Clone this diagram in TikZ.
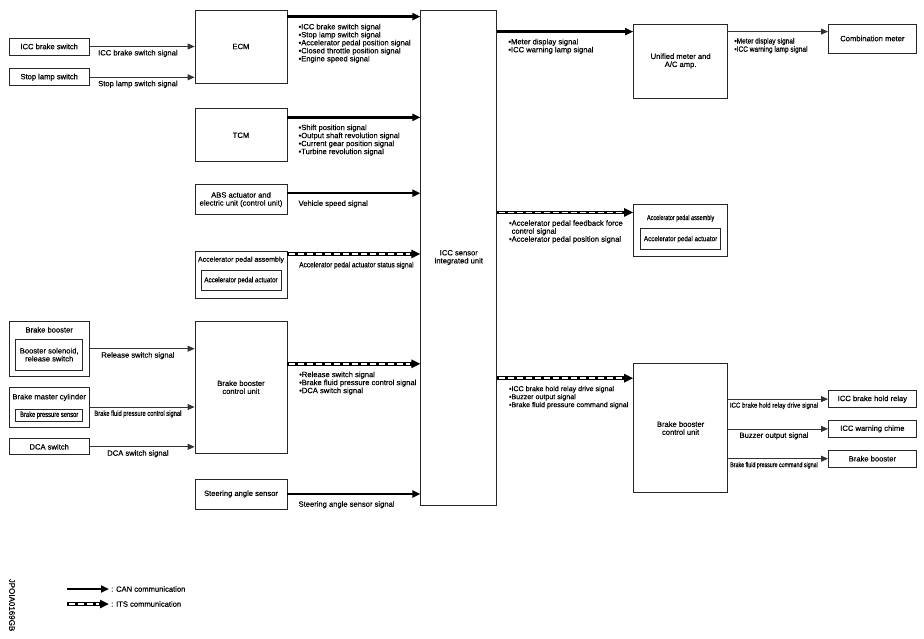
\documentclass[tikz,border=0pt]{standalone}
\usepackage{fontspec}
\setmainfont{Liberation Sans}[FakeBold=0.4]
\newfontfamily\condfont{Liberation Sans}[FakeStretch=0.76, FakeBold=0.4]
\newfontfamily\semicondfont{Liberation Sans}[FakeStretch=0.86, FakeBold=0.4]
\usetikzlibrary{positioning,arrows.meta}

\begin{document}
\begin{tikzpicture}[
  x=1pt, y=-1pt,
  every node/.style={font=\fontsize{7.6}{8}\selectfont, inner sep=1pt},
  box/.style={rectangle, draw=black!85, line width=0.8pt, align=center, inner sep=2pt},
  midbox/.style={box, minimum width=92pt},
  srcbox/.style={box, minimum width=80pt},
  dstbox/.style={box, minimum width=88pt},
  rbox/.style={box, minimum width=94pt},
  title/.style={text height=5.5pt, text depth=1.6pt},
  wire/.style={line width=0.8pt, draw=black!80, -{Triangle[length=7pt,width=6pt]}},
  can/.style={line width=2.4pt, -{Triangle[length=8pt,width=7pt]}},
  its/.style={line width=3.6pt, -{Triangle[length=9pt,width=8pt]},
    postaction={draw=white, line width=1.6pt, arrows=-, dash pattern=on 6pt off 3pt, shorten <=1.5pt, shorten >=10pt}},
  sig/.style={anchor=north west, align=left, pos=0, xshift=9pt, yshift=-5pt},
  wlbl/.style={anchor=north, pos=.46, yshift=-2pt},
  cond/.style={font=\condfont\fontsize{7.6}{8}\selectfont},
  semi/.style={font=\semicondfont\fontsize{7.6}{8.2}\selectfont}
]
\useasboundingbox (0,0) rectangle (924,638);

%Nodes
\node[midbox, minimum height=73pt] (ecm) at (241,46.5) {ECM};
\node[midbox, minimum height=53pt, below=25pt of ecm] (tcm) {TCM};
\node[midbox, minimum height=30pt, below=22pt of tcm] (abs) {ABS actuator and\\electric unit (control unit)};
\node[midbox, minimum height=47pt, below=36pt of abs] (accL) {};
\node[midbox, minimum height=132pt, below=22pt of accL] (bbcuL) {Brake booster\\control unit};
\node[midbox, minimum height=30pt, below=25pt of bbcuL] (sas) {Steering angle sensor};

\node[box, minimum width=76pt, minimum height=495pt, below right=0pt and 133pt of ecm.north east] (icc) {ICC sensor\\integrated unit};

\node[srcbox, minimum height=17pt, left=105pt of ecm] (iccsw) {ICC brake switch};
\node[srcbox, minimum height=17pt, below=13pt of iccsw] (stopsw) {Stop lamp switch};
\node[srcbox, minimum height=55pt, below left=0pt and 105pt of bbcuL.north west] (bbst) {};
\node[srcbox, minimum height=40pt, below=10pt of bbst] (bmc) {};
\node[srcbox, minimum height=16pt, below=11pt of bmc] (dca) {DCA switch};

\node[rbox, minimum height=74pt, below right=14pt and 136pt of icc.north east] (um) {Unified meter and\\A/C amp.};
\node[dstbox, minimum height=29pt, below right=0pt and 100pt of um.north east] (cmet) {Combination meter};
\node[rbox, minimum height=52pt, below=106pt of um] (accR) {};
\node[rbox, minimum height=129pt, below=106pt of accR] (bbcuR) {Brake booster\\control unit};
\node[dstbox, minimum height=17pt, below right=27pt and 100pt of bbcuR.north east] (relay) {ICC brake hold relay};
\node[dstbox, minimum height=17pt, below=12pt of relay] (chime) {ICC warning chime};
\node[dstbox, minimum height=17pt, below=12pt of chime] (bbout) {Brake booster};

%Inner parts
\node[title, below=5pt of bbst.north] (bbstT) {Brake booster};
\node[box, minimum width=67pt, minimum height=31pt, below=18pt of bbst.north] (bsol) {Booster solenoid,\\release switch};
\node[title, below=6pt of bmc.north] (bmcT) {Brake master cylinder};
\node[box, cond, inner sep=1pt, minimum width=67pt, minimum height=12pt, below=22pt of bmc.north] (bps) {Brake pressure sensor};
\node[title, font=\fontsize{7}{8}\selectfont, below=4pt of accL.north] (accLT) {Accelerator pedal assembly};
\node[box, font=\semicondfont\fontsize{7.3}{8}\selectfont, minimum width=80pt, minimum height=20pt, below=19pt of accL.north] (accLa) {Accelerator pedal actuator};
\node[title, font=\condfont\fontsize{7.2}{8}\selectfont, below=9pt of accR.north] (accRT) {Accelerator pedal assembly};
\node[box, font=\semicondfont\fontsize{7.3}{8}\selectfont, minimum width=80pt, minimum height=21pt, below=24pt of accR.north] (accRa) {Accelerator pedal actuator};

%Ports
\coordinate (ecmo) at ([yshift=-7pt]ecm.north east);
\coordinate (tcmo) at ([yshift=-9pt]tcm.north east);
\coordinate (abso) at ([yshift=-9pt]abs.north east);
\coordinate (accLo) at ([yshift=-3pt]accL.north east);
\coordinate (bbcuLo) at ([yshift=-43pt]bbcuL.north east);
\coordinate (umi) at ([yshift=-8pt]um.north west);
\coordinate (umo) at ([yshift=-8pt]um.north east);
\coordinate (accRi) at ([yshift=-8pt]accR.north west);
\coordinate (bbcuRi) at ([yshift=-15pt]bbcuR.north west);

%Arrows
\draw[wire] (iccsw) -- node[wlbl] {ICC brake switch signal} (iccsw -| ecm.west);
\draw[wire] (stopsw) -- node[wlbl] {Stop lamp switch signal} (stopsw -| ecm.west);
\draw[wire] (bbst) -- node[wlbl] {Release switch signal} (bbst -| bbcuL.west);
\draw[wire] (bmc) -- node[wlbl, cond] {Brake fluid pressure control signal} (bmc -| bbcuL.west);
\draw[wire] (dca) -- node[wlbl] {DCA switch signal} (dca -| bbcuL.west);

\draw[can] (ecmo) -- node[sig] {•ICC brake switch signal\\•Stop lamp switch signal\\•Accelerator pedal position signal\\•Closed throttle position signal\\•Engine speed signal} (ecmo -| icc.west);
\draw[can] (tcmo) -- node[sig] {•Shift position signal\\•Output shaft revolution signal\\•Current gear position signal\\•Turbine revolution signal} (tcmo -| icc.west);
\draw[can] (abso) -- node[sig] {Vehicle speed signal} (abso -| icc.west);
\draw[its] (accLo) -- node[sig, semi] {Accelerator pedal actuator status signal} (accLo -| icc.west);
\draw[its] (bbcuLo) -- node[sig] {•Release switch signal\\•Brake fluid pressure control signal\\•DCA switch signal} (bbcuLo -| icc.west);
\draw[can] (sas) -- node[sig] {Steering angle sensor signal} (sas -| icc.west);

\draw[can] (umi -| icc.east) -- node[sig] {•Meter display signal\\•ICC warning lamp signal} (umi);
\draw[its] (accRi -| icc.east) -- node[sig] {•Accelerator pedal feedback force\\\hphantom{•}control signal\\•Accelerator pedal position signal} (accRi);
\draw[its] (bbcuRi -| icc.east) -- node[sig, font=\fontsize{7.1}{8}\selectfont] {•ICC brake hold relay drive signal\\•Buzzer output signal\\•Brake fluid pressure command signal} (bbcuRi);

\draw[wire] (umo) -- node[sig, semi, xshift=-4pt] {•Meter display signal\\•ICC warning lamp signal} (umo -| cmet.west);
\draw[wire] (relay -| bbcuR.east) -- node[wlbl, font=\semicondfont\fontsize{7.1}{8}\selectfont] {ICC brake hold relay drive signal} (relay);
\draw[wire] (chime -| bbcuR.east) -- node[wlbl] {Buzzer output signal} (chime);
\draw[wire] (bbout -| bbcuR.east) -- node[wlbl, font=\condfont\fontsize{7}{8}\selectfont] {Brake fluid pressure command signal} (bbout);

%Legend
\node[rotate=-90, font=\fontsize{8}{8}\selectfont] (figid) at (12,605) {JPOIA0169GB};
\coordinate (canA) at (67,589);
\node[anchor=west, inner sep=2pt] (canT) at (109,589) {: CAN communication};
\coordinate (itsA) at (67,604);
\node[anchor=west, inner sep=2pt] (itsT) at (109,604) {: ITS communication};
\draw[can] (canA) -- (canT);
\draw[its] (itsA) -- (itsT);

\end{tikzpicture}
\end{document}
